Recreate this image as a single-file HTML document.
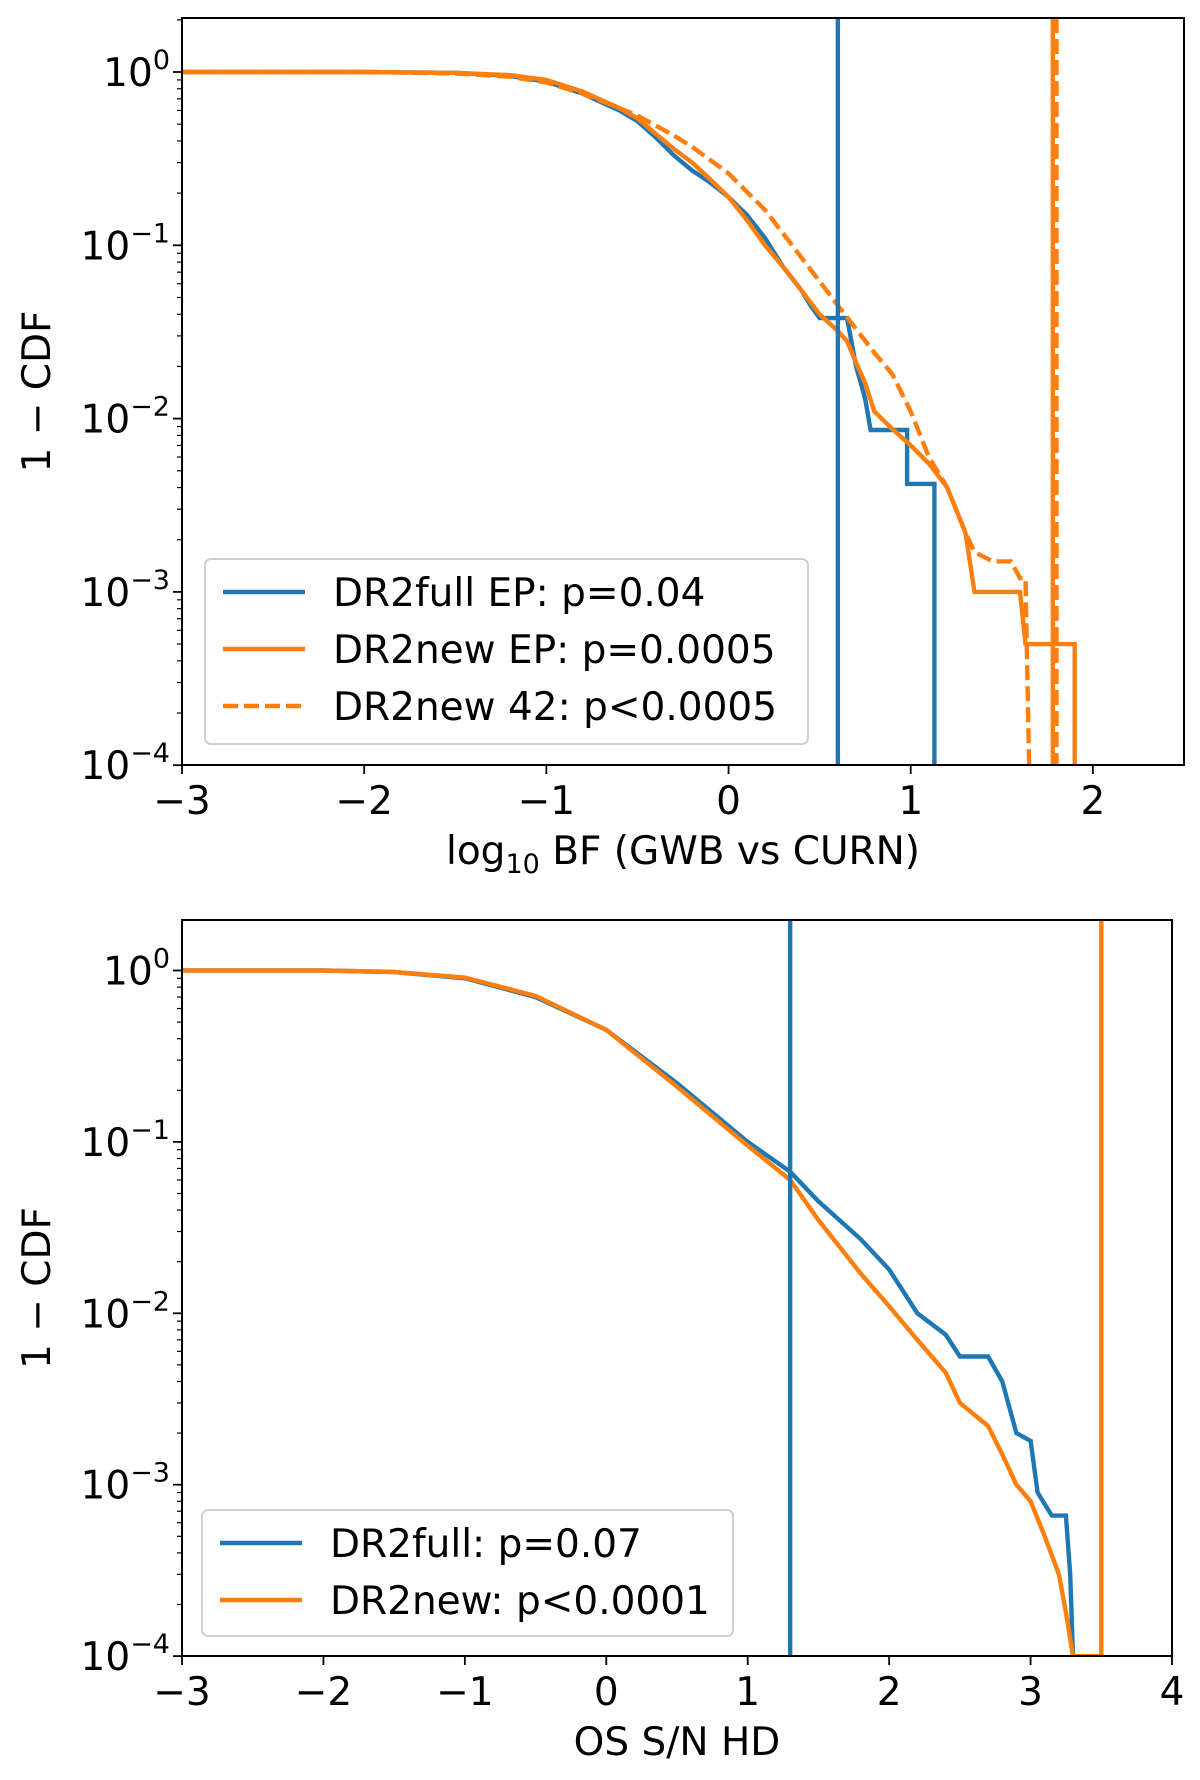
<!DOCTYPE html>
<html><head><meta charset="utf-8"><style>
html,body{margin:0;padding:0;background:#fff;}
svg text{font-family:"DejaVu Sans","Liberation Sans",sans-serif;fill:#000;}
</style></head><body>
<svg id="fig" width="1200" height="1775" viewBox="0 0 1200 1775" xmlns="http://www.w3.org/2000/svg"></svg>
<script>
// ---- Top panel data ----
const topBlueX = [-3,-2,-1.5,-1.2,-1,-0.8,-0.6,-0.5,-0.4,-0.3,-0.2,-0.1,0,0.1,0.2,0.3,0.4,0.45,0.5,0.65,0.7,0.75,0.78,0.98,0.98,1.13,1.13];
const topBlueY = [1,1,0.99,0.95,0.88,0.75,0.6,0.52,0.42,0.33,0.27,0.23,0.19,0.15,0.11,0.075,0.055,0.045,0.038,0.038,0.02,0.013,0.0086,0.0086,0.0042,0.0042,0.0001];
const topOrX = [-3,-2,-1.5,-1.2,-1,-0.8,-0.6,-0.5,-0.4,-0.3,-0.2,-0.1,0,0.1,0.2,0.3,0.4,0.5,0.6,0.65,0.7,0.75,0.8,0.9,1.0,1.1,1.2,1.3,1.35,1.6,1.63,1.9,1.9];
const topOrY = [1,1,0.99,0.96,0.9,0.77,0.62,0.54,0.44,0.36,0.3,0.24,0.19,0.14,0.1,0.075,0.055,0.04,0.032,0.028,0.021,0.016,0.011,0.0087,0.007,0.0055,0.004,0.0022,0.001,0.001,0.0005,0.0005,0.0001];
const topDashX = [-3,-2,-1.5,-1.2,-1,-0.8,-0.6,-0.5,-0.3,-0.2,0,0.2,0.4,0.6,0.8,0.9,1.0,1.1,1.2,1.3,1.35,1.45,1.55,1.6,1.63,1.65];
const topDashY = [1,1,0.98,0.94,0.87,0.75,0.62,0.56,0.43,0.37,0.26,0.16,0.085,0.045,0.024,0.018,0.011,0.006,0.004,0.0022,0.0017,0.0015,0.0015,0.0012,0.0012,0.0001];
const topVlines = [0.6, 1.78, 1.8];
const topXTicks = [-3,-2,-1,0,1,2];
// ---- Bottom panel data ----
const botBlueX = [-3,-2,-1.5,-1,-0.5,0,0.5,1,1.3,1.5,1.8,2,2.2,2.4,2.5,2.7,2.8,2.9,3.0,3.05,3.15,3.25,3.28,3.3];
const botBlueY = [1,1,0.98,0.9,0.7,0.45,0.22,0.1,0.067,0.045,0.027,0.018,0.01,0.0075,0.0056,0.0056,0.004,0.002,0.0018,0.0009,0.00066,0.00066,0.0003,0.0001];
const botOrX = [-3,-2,-1.5,-1,-0.5,0,0.5,1,1.3,1.5,1.8,2,2.2,2.4,2.5,2.7,2.8,2.9,3.0,3.1,3.2,3.25,3.3,3.5];
const botOrY = [1,1,0.98,0.91,0.71,0.45,0.21,0.095,0.06,0.035,0.017,0.011,0.007,0.0045,0.003,0.0022,0.0015,0.001,0.0008,0.0005,0.0003,0.00018,0.0001,0.0001];
const botVlines = [1.3, 3.5];
const botXTicks = [-3,-2,-1,0,1,2,3,4];
const yExps = [0,-1,-2,-3,-4];

const NS="http://www.w3.org/2000/svg";
const svg=document.getElementById('fig');
function mk(tag,attrs,parent){const e=document.createElementNS(NS,tag);for(const k in attrs)e.setAttribute(k,attrs[k]);(parent||svg).appendChild(e);return e;}
const LW=4.4, FS=39;
function panel(p){
  const g=mk('g',{});
  
  
  const X=v=>p.L+(v-p.x0)/(p.x1-p.x0)*(p.R-p.L);
  const Y=v=>p.y0px+(-Math.log10(v))*p.dec;
  const clipId=p.name+'-clip';
  const cp=mk('clipPath',{id:clipId},g);mk('rect',{x:p.L,y:p.T,width:p.R-p.L,height:p.B-p.T},cp);
  const plot=mk('g',{'clip-path':'url(#'+clipId+')'},g);
  
  
  function line(xs,ys,color,dash,name){
    const pts=xs.map((x,i)=>X(x).toFixed(1)+','+Y(ys[i]).toFixed(1)).join(' ');
    const pl=mk('polyline',{points:pts,fill:'none',stroke:color,'stroke-width':LW,'stroke-linejoin':'miter'},plot);
    if(dash)pl.setAttribute('stroke-dasharray','15,6');
    
    
  }
  p.series.forEach(s=>line(s.x,s.y,s.c,s.d,s.n));
  p.vl.forEach((v,i)=>{
    const l=mk('line',{x1:X(v),x2:X(v),y1:p.T,y2:p.B,stroke:p.vc[i],'stroke-width':LW},plot);
    if(p.vd[i])l.setAttribute('stroke-dasharray','15,6');
    
    
  });
  const fr=mk('rect',{x:p.L,y:p.T,width:p.R-p.L,height:p.B-p.T,fill:'none',stroke:'#000','stroke-width':2},g);
  
  
  p.xt.forEach(t=>{
    mk('line',{x1:X(t),x2:X(t),y1:p.B,y2:p.B+9,stroke:'#000','stroke-width':1.8},g);
    const tx=mk('text',{x:X(t),y:p.B+49,'font-size':FS,'text-anchor':'middle'},g);
    tx.textContent=(t<0?'\u2212'+(-t):''+t);
    
    
  });
  yExps.forEach(e=>{
    const y=p.y0px-e*p.dec;
    mk('line',{x1:p.L-9,x2:p.L,y1:y,y2:y,stroke:'#000','stroke-width':1.8},g);
    for(let m=2;m<=9;m++){const v=Math.pow(10,e)*m;const ym=Y(v);if(ym<p.T)continue;mk('line',{x1:p.L-5,x2:p.L,y1:ym,y2:ym,stroke:'#000','stroke-width':1.2},g);}
    const tx=mk('text',{x:p.L-12,y:y+14,'font-size':FS,'text-anchor':'end'},g);
    tx.innerHTML='10<tspan dy="-17" font-size="27">'+(e<0?'\u2212'+(-e):e)+'</tspan>';
    
    
  });
  const yl=mk('text',{x:0,y:0,'font-size':FS,'text-anchor':'middle',transform:'translate(50,'+((p.T+p.B)/2)+') rotate(-90)'},g);
  yl.setAttribute('xml:space','preserve');
  yl.textContent='1 \u2212  CDF';
  
  
  const xl=mk('text',{x:(p.L+p.R)/2,y:p.B+99,'font-size':FS,'text-anchor':'middle'},g);
  xl.innerHTML=p.xlabel;
  
  
  const lg=mk('g',{},g);
  
  
  mk('rect',{x:p.lg.x,y:p.lg.y,width:p.lg.w,height:p.lg.h,rx:6,fill:'#fff','fill-opacity':0.85,stroke:'#d0d0d0','stroke-width':2},lg);
  p.lg.items.forEach((it,i)=>{
    const cy=p.lg.y+33+i*57;
    const ln=mk('line',{x1:p.lg.x+18,x2:p.lg.x+100,y1:cy,y2:cy,stroke:it.c,'stroke-width':LW},lg);
    if(it.d)ln.setAttribute('stroke-dasharray','15,6');
    const t=mk('text',{x:p.lg.x+128,y:cy+14,'font-size':FS},lg);
    t.textContent=it.t;
    
    
  });
}
const B='#1f77b4',O='#ff7f0e';
panel({name:'top-panel',L:182,R:1184,T:18,B:765,x0:-3,x1:2.5,y0px:72,dec:173.3,
  series:[{x:topBlueX,y:topBlueY,c:B,n:'dr2full-ep-curve'},{x:topOrX,y:topOrY,c:O,n:'dr2new-ep-curve'},{x:topDashX,y:topDashY,c:O,d:true,n:'dr2new-42-curve'}],
  vl:topVlines,vc:[B,O,O],vd:[false,false,true],xt:topXTicks,
  xlabel:'log<tspan dy="9" font-size="27">10</tspan><tspan dy="-9"> BF (GWB vs CURN)</tspan>',
  lg:{x:205,y:559,w:603,h:185,items:[{c:B,t:'DR2full EP: p=0.04'},{c:O,t:'DR2new EP: p=0.0005'},{c:O,d:true,t:'DR2new 42: p<0.0005'}]}});
panel({name:'bottom-panel',L:182,R:1172,T:920,B:1656,x0:-3,x1:4,y0px:970.5,dec:171.4,
  series:[{x:botBlueX,y:botBlueY,c:B,n:'dr2full-curve'},{x:botOrX,y:botOrY,c:O,n:'dr2new-curve'}],
  vl:botVlines,vc:[B,O],vd:[false,false],xt:botXTicks,
  xlabel:'OS S/N HD',
  lg:{x:202,y:1510,w:531,h:126,items:[{c:B,t:'DR2full: p=0.07'},{c:O,t:'DR2new: p<0.0001'}]}});
</script>
</body></html>
